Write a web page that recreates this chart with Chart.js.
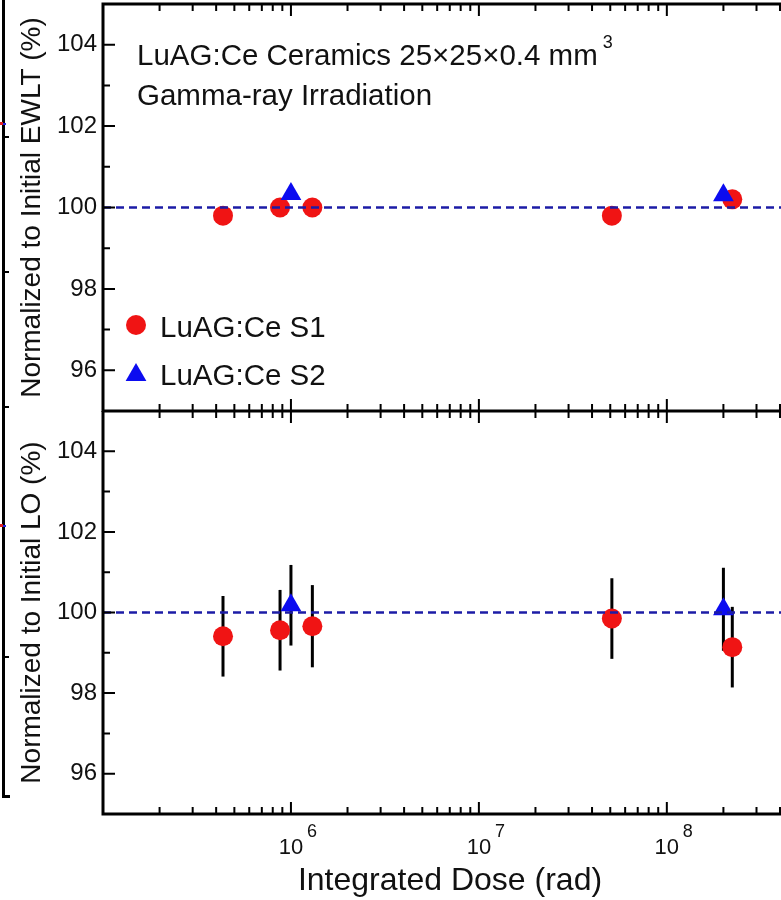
<!DOCTYPE html>
<html><head><meta charset="utf-8">
<script src="https://cdn.jsdelivr.net/npm/chart.js@4/dist/chart.umd.min.js"></script>
<style>
html,body{margin:0;padding:0;background:#fff;overflow:hidden;}
#wrap{position:relative;width:781px;height:900px;background:#fff;}
#topc{position:absolute;left:0;top:0;}
#botc{position:absolute;left:0;top:411px;}
.sl{position:absolute;background:#000;}
</style></head><body>
<div id="wrap">
<canvas id="topc" width="781" height="412"></canvas>
<canvas id="botc" width="781" height="489"></canvas>
<div class="sl" style="left:2px;top:0;width:3px;height:798px"></div>
<div class="sl" style="left:4px;top:136px;width:5px;height:2px"></div>
<div class="sl" style="left:4px;top:271px;width:5px;height:2px"></div>
<div class="sl" style="left:4px;top:406px;width:5px;height:2px"></div>
<div class="sl" style="left:4px;top:656px;width:5px;height:2px"></div>
<div class="sl" style="left:4px;top:795px;width:6px;height:3px"></div>
<div class="sl" style="left:0;top:122px;width:3px;height:3px;background:#e02020"></div>
<div class="sl" style="left:3px;top:123px;width:3px;height:2px;background:#2020e0"></div>
<div class="sl" style="left:0;top:524px;width:3px;height:3px;background:#e02020"></div>
<div class="sl" style="left:3px;top:525px;width:3px;height:2px;background:#2020e0"></div>
</div>
<script>
// ---- data ----
const doseS1 = [4.35e5, 8.75e5, 1.30e6, 5.1e7, 2.23e8];
const doseS2 = [1.0e6, 2.0e8];
const ewltS1 = [99.8, 100.0, 100.0, 99.8, 100.2];
const ewltS2 = [100.33, 100.3];
const loS1 = [99.41, 99.56, 99.66, 99.85, 99.14];
const loS1Err = [1.0, 1.0, 1.02, 1.0, 1.0];
const loS2 = [100.18, 100.08];
const loS2Err = [1.0, 1.03];
const refLevel = 100;
const xRange = [1e5, 4.05e8];
const yRange = [95, 105];
const yTicks = [96, 98, 100, 102, 104];
const yMinorTicks = [97, 99, 101, 103];
const xDecades = [6, 7, 8];
const seriesNames = ['LuAG:Ce S1', 'LuAG:Ce S2'];
const yTitles = ['Normalized to Initial EWLT (%)', 'Normalized to Initial LO (%)'];
const xTitle = 'Integrated Dose (rad)';
const noteLines = ['LuAG:Ce Ceramics 25\u00d725\u00d70.4 mm', 'Gamma-ray Irradiation'];
const noteSup = '3';

const FONT = '"Liberation Sans", Arial, Helvetica, sans-serif';
const RED = '#f01414';
const BLUE = '#0c0cf0';
const DASH = '#1c1ca6';

function pts(xs, ys) { return xs.map((x, i) => ({x: x, y: ys[i]})); }

function drawMarker(ctx, style, r, x, y, color) {
  ctx.save();
  ctx.fillStyle = color;
  ctx.beginPath();
  if (style === 'triangle') {
    for (let k = 0; k < 3; k++) {
      const a = k * 2 * Math.PI / 3;
      const px = x + Math.sin(a) * r, py = y - Math.cos(a) * r;
      if (k === 0) ctx.moveTo(px, py); else ctx.lineTo(px, py);
    }
    ctx.closePath();
  } else {
    ctx.arc(x, y, r, 0, Math.PI * 2);
  }
  ctx.fill();
  ctx.restore();
}

const errorBarPlugin = {
  id: 'errbars',
  beforeDatasetsDraw(chart) {
    const ctx = chart.ctx, xs = chart.scales.x, ys = chart.scales.y;
    ctx.save();
    ctx.strokeStyle = '#000';
    ctx.lineWidth = 3;
    chart.data.datasets.forEach(ds => {
      if (!ds.errorBars) return;
      ds.data.forEach((p, i) => {
        const e = ds.errorBars[i];
        const px = xs.getPixelForValue(p.x);
        ctx.beginPath();
        ctx.moveTo(px, ys.getPixelForValue(p.y - e));
        ctx.lineTo(px, ys.getPixelForValue(p.y + e));
        ctx.stroke();
      });
    });
    ctx.restore();
  }
};

const framePlugin = {
  id: 'frame',
  afterDatasetsDraw(chart) {
    const ctx = chart.ctx, a = chart.chartArea, xs = chart.scales.x, ys = chart.scales.y;
    ctx.save();
    ctx.strokeStyle = '#000';
    ctx.lineWidth = 3;
    ctx.beginPath();
    ctx.moveTo(a.left, a.top); ctx.lineTo(a.left, a.bottom);
    ctx.moveTo(a.left - 1.5, a.top); ctx.lineTo(a.right + 5, a.top);
    ctx.moveTo(a.left - 1.5, a.bottom); ctx.lineTo(a.right + 5, a.bottom);
    ctx.stroke();
    ctx.lineWidth = 2;
    ctx.beginPath();
    const d0 = Math.floor(Math.log10(xRange[0])), d1 = Math.ceil(Math.log10(xRange[1]));
    for (let d = d0; d <= d1; d++) {
      for (let m = 1; m <= 9; m++) {
        const v = m * Math.pow(10, d);
        if (v <= xRange[0] || v > xRange[1]) continue;
        const px = xs.getPixelForValue(v);
        const len = m === 1 ? 12 : 7;
        ctx.moveTo(px, a.top); ctx.lineTo(px, a.top + len);
        ctx.moveTo(px, a.bottom); ctx.lineTo(px, a.bottom - len);
      }
    }
    yTicks.forEach(v => { const py = ys.getPixelForValue(v); ctx.moveTo(a.left, py); ctx.lineTo(a.left + 12, py); });
    yMinorTicks.forEach(v => { const py = ys.getPixelForValue(v); ctx.moveTo(a.left, py); ctx.lineTo(a.left + 7, py); });
    ctx.stroke();
    ctx.restore();
  }
};

const notePlugin = {
  id: 'note',
  afterDraw(chart) {
    const o = chart.options.plugins.note;
    if (!o || !o.show) return;
    const ctx = chart.ctx, a = chart.chartArea;
    ctx.save();
    ctx.fillStyle = '#111';
    ctx.textAlign = 'left';
    ctx.textBaseline = 'alphabetic';
    ctx.font = '29.5px ' + FONT;
    const x0 = a.left + 34;
    ctx.fillText(noteLines[0], x0, a.top + 61);
    const w = ctx.measureText(noteLines[0]).width;
    ctx.fillText(noteLines[1], x0, a.top + 101);
    ctx.font = '18px ' + FONT;
    ctx.fillText(noteSup, x0 + w + 5, a.top + 44);
    // legend
    ctx.font = '29.5px ' + FONT;
    const items = [chart.data.datasets[2], chart.data.datasets[1]];
    items.forEach((ds, i) => {
      const cy = a.top + 321 + i * 48;
      drawMarker(ctx, ds.pointStyle, ds.pointRadius, a.left + 33, cy + (ds.pointStyle === 'triangle' ? 2 : 0), ds.backgroundColor);
      ctx.fillStyle = '#111';
      ctx.fillText(ds.label, a.left + 57, cy + 12);
    });
    ctx.restore();
  }
};

const xLabelPlugin = {
  id: 'xlabels',
  afterDraw(chart) {
    const o = chart.options.plugins.xlabels;
    if (!o || !o.show) return;
    const ctx = chart.ctx, a = chart.chartArea, xs = chart.scales.x;
    ctx.save();
    ctx.fillStyle = '#111';
    ctx.textBaseline = 'alphabetic';
    xDecades.forEach(d => {
      const px = xs.getPixelForValue(Math.pow(10, d));
      ctx.font = '22px ' + FONT;
      ctx.textAlign = 'center';
      ctx.fillText('10', px, a.bottom + 40);
      ctx.font = '18px ' + FONT;
      ctx.textAlign = 'left';
      ctx.fillText(String(d), px + 16, a.bottom + 23);
    });
    // axis title
    ctx.font = '32px ' + FONT;
    ctx.textAlign = 'center';
    ctx.fillText(o.title, a.left + 347, a.bottom + 76);
    ctx.restore();
  }
};

function makePanel(canvasId, s1y, s2y, s1err, s2err, yTitle, isBottom) {
  const ds = [
    {type: 'line', label: 'ref', data: [{x: xRange[0], y: refLevel}, {x: xRange[1], y: refLevel}],
     borderColor: DASH, borderWidth: 2.5, borderDash: [8, 5], pointRadius: 0, fill: false, tension: 0},
    {type: 'scatter', label: seriesNames[1], data: pts(doseS2, s2y), pointStyle: 'triangle', pointRadius: 12,
     pointHoverRadius: 12, backgroundColor: BLUE, borderColor: BLUE, borderWidth: 0, errorBars: s2err},
    {type: 'scatter', label: seriesNames[0], data: pts(doseS1, s1y), pointStyle: 'circle', pointRadius: 10,
     pointHoverRadius: 10, backgroundColor: RED, borderColor: RED, borderWidth: 0, errorBars: s1err}
  ];
  return new Chart(document.getElementById(canvasId), {
    type: 'scatter',
    data: {datasets: ds},
    options: {
      responsive: false, animation: false, devicePixelRatio: 1,
      layout: {autoPadding: false, padding: {top: isBottom ? 0 : 4, left: 0, right: 0, bottom: 0}},
      plugins: {legend: {display: false}, tooltip: {enabled: false},
        note: {show: !isBottom}, xlabels: {show: isBottom, title: xTitle}},
      scales: {
        x: {type: 'logarithmic', min: xRange[0], max: xRange[1],
            ticks: {display: false}, grid: {display: false, drawTicks: false}, border: {display: false},
            title: {display: false},
            afterFit: s => { s.height = isBottom ? 86 : 1; s.paddingLeft = 0; s.paddingRight = 0; }},
        y: {type: 'linear', min: yRange[0], max: yRange[1],
            afterBuildTicks: s => { s.ticks = yTicks.map(v => ({value: v})); },
            ticks: {color: '#111', font: {family: FONT, size: 24}, padding: 6, autoSkip: false},
            grid: {display: false, drawTicks: false}, border: {display: false},
            title: {display: true, text: yTitle, color: '#111', font: {family: FONT, size: 28}, padding: {top: 15, bottom: 0}},
            afterFit: s => { s.width = 103; s.paddingTop = 0; s.paddingBottom = 0; }}
      }
    },
    plugins: [errorBarPlugin, framePlugin, notePlugin, xLabelPlugin]
  });
}

makePanel('topc', ewltS1, ewltS2, null, null, yTitles[0], false);
makePanel('botc', loS1, loS2, loS1Err, loS2Err, yTitles[1], true);
</script>
</body></html>
